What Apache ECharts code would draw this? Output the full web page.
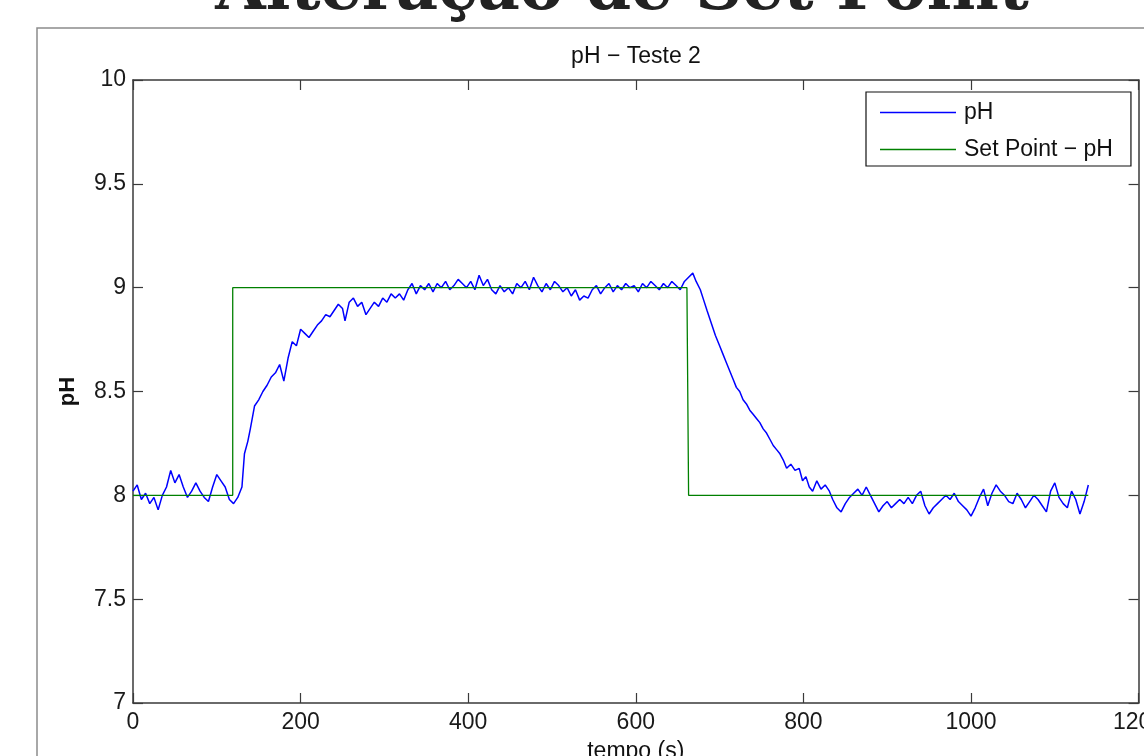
<!DOCTYPE html>
<html>
<head>
<meta charset="utf-8">
<title>pH - Teste 2</title>
<script src="https://cdn.jsdelivr.net/npm/echarts@6/dist/echarts.min.js"></script>
<style>
  html, body { margin: 0; padding: 0; background: #fff; }
  #main { width: 1144px; height: 756px; }
</style>
</head>
<body>
<div id="main"></div>
<script>
// dados (tempo em s, pH)
const phMedido = [
  [0, 8.02], [5, 8.05], [10, 7.98], [15, 8.01], [20, 7.96], [25, 7.99], [30, 7.93], [35, 8.00],
  [40, 8.04], [45, 8.12], [50, 8.06], [55, 8.10], [60, 8.04], [65, 7.99], [70, 8.02], [75, 8.06],
  [80, 8.02], [85, 7.99], [90, 7.97], [95, 8.04], [100, 8.10], [105, 8.07], [110, 8.04], [115, 7.98],
  [120, 7.96], [125, 7.99], [130, 8.04], [133, 8.20], [137, 8.26], [140, 8.32], [145, 8.43], [150, 8.46],
  [155, 8.50], [160, 8.53], [165, 8.57], [170, 8.59], [175, 8.63], [180, 8.55], [185, 8.66], [190, 8.74],
  [195, 8.72], [200, 8.80], [205, 8.78], [210, 8.76], [215, 8.79], [220, 8.82], [225, 8.84], [230, 8.87],
  [235, 8.86], [240, 8.89], [245, 8.92], [250, 8.90], [253, 8.84], [258, 8.93], [263, 8.95], [268, 8.91],
  [273, 8.93], [278, 8.87], [283, 8.90], [288, 8.93], [293, 8.91], [298, 8.95], [303, 8.93], [308, 8.97],
  [313, 8.95], [318, 8.97], [323, 8.94], [328, 8.99], [333, 9.02], [338, 8.97], [343, 9.01], [348, 8.99],
  [353, 9.02], [358, 8.98], [363, 9.02], [368, 9.00], [373, 9.03], [378, 8.99], [383, 9.01], [388, 9.04],
  [393, 9.02], [398, 9.00], [403, 9.03], [408, 8.99], [413, 9.06], [418, 9.01], [423, 9.04], [428, 8.99],
  [433, 8.97], [438, 9.01], [443, 8.98], [448, 9.00], [453, 8.97], [458, 9.02], [463, 9.00], [468, 9.03],
  [473, 8.99], [478, 9.05], [483, 9.01], [488, 8.98], [493, 9.02], [498, 8.99], [503, 9.03], [508, 9.01],
  [513, 8.98], [518, 9.00], [523, 8.96], [528, 8.99], [533, 8.94], [538, 8.96], [543, 8.95], [548, 8.99],
  [553, 9.01], [558, 8.97], [563, 9.00], [568, 9.02], [573, 8.98], [578, 9.01], [583, 8.99], [588, 9.02],
  [593, 9.00], [598, 9.01], [603, 8.98], [608, 9.02], [613, 9.00], [618, 9.03], [623, 9.01], [628, 8.99],
  [633, 9.02], [638, 9.00], [643, 9.03], [648, 9.01], [653, 8.99], [658, 9.03], [663, 9.05], [668, 9.07],
  [672, 9.03], [677, 8.99], [681, 8.94], [685, 8.89], [690, 8.83], [695, 8.77], [700, 8.72], [704, 8.68],
  [708, 8.64], [712, 8.60], [716, 8.56], [720, 8.52], [724, 8.50], [728, 8.46], [732, 8.44], [736, 8.41],
  [740, 8.39], [744, 8.37], [748, 8.35], [752, 8.32], [756, 8.30], [760, 8.27], [764, 8.24], [768, 8.22],
  [772, 8.20], [776, 8.17], [780, 8.13], [785, 8.15], [790, 8.12], [795, 8.13], [799, 8.07], [803, 8.09],
  [807, 8.04], [811, 8.02], [816, 8.07], [821, 8.03], [826, 8.05], [831, 8.02], [835, 7.98], [840, 7.94],
  [845, 7.92], [850, 7.96], [855, 7.99], [860, 8.01], [865, 8.03], [870, 8.00], [875, 8.04], [880, 8.00],
  [885, 7.96], [890, 7.92], [895, 7.95], [900, 7.97], [905, 7.94], [910, 7.96], [915, 7.98], [920, 7.96],
  [925, 7.99], [930, 7.96], [935, 8.00], [940, 8.02], [945, 7.95], [950, 7.91], [955, 7.94], [960, 7.96],
  [965, 7.98], [970, 8.00], [975, 7.98], [980, 8.01], [985, 7.97], [990, 7.95], [995, 7.93], [1000, 7.90],
  [1005, 7.94], [1010, 7.99], [1015, 8.03], [1020, 7.95], [1025, 8.01], [1030, 8.05], [1035, 8.02], [1040, 8.00],
  [1045, 7.97], [1050, 7.96], [1055, 8.01], [1060, 7.98], [1065, 7.94], [1070, 7.97], [1075, 8.00], [1080, 7.98],
  [1085, 7.95], [1090, 7.92], [1095, 8.02], [1100, 8.06], [1105, 7.99], [1110, 7.96], [1115, 7.94], [1120, 8.02],
  [1125, 7.98], [1130, 7.91], [1135, 7.97], [1140, 8.05]
];
const setPoint = [[0, 8], [119, 8], [119, 9], [661, 9], [663, 8], [1140, 8]];
const xTicks = [0, 200, 400, 600, 800, 1000, 1200];
const yTicks = [7, 7.5, 8, 8.5, 9, 9.5, 10];

const chart = echarts.init(document.getElementById('main'), null, { renderer: 'canvas' });

const fonte = 'Liberation Sans';
const corEixo = '#3a3a3a';

const option = {
  animation: false,
  backgroundColor: '#fff',
  graphic: [
    {
      type: 'rect', silent: true, z: -1,
      shape: { x: 37, y: 28, width: 1200, height: 800 },
      style: { fill: '#fff', stroke: '#8c8c8c', lineWidth: 1.5 }
    },
    {
      type: 'text', silent: true,
      style: {
        text: 'Alteração de Set Point', x: 622, y: 25,
        textAlign: 'center', textVerticalAlign: 'bottom',
        font: 'bold 65px "DejaVu Serif"', fill: '#222'
      }
    },
    {
      type: 'text', silent: true,
      style: {
        text: 'pH − Teste 2', x: 636, y: 57,
        textAlign: 'center', textVerticalAlign: 'middle',
        font: '23px "' + fonte + '"', fill: '#111'
      }
    }
  ],
  grid: { left: 133, right: 5.4, top: 80, bottom: 53, containLabel: false, outerBoundsMode: 'none' },
  legend: {
    orient: 'vertical',
    left: 866, top: 92,
    padding: [9, 18, 5, 14],
    itemGap: 14, itemWidth: 76, itemHeight: 1.6,
    icon: 'rect',
    backgroundColor: '#fff', borderColor: '#111', borderWidth: 1.2,
    textStyle: { fontFamily: fonte, fontSize: 23, color: '#111', padding: [0, 0, 0, 3] },
    data: ['pH', 'Set Point − pH']
  },
  xAxis: [
    {
      type: 'value', min: xTicks[0], max: xTicks[xTicks.length - 1], interval: 200,
      name: 'tempo (s)', nameLocation: 'middle', nameGap: 37,
      nameTextStyle: { fontFamily: fonte, fontSize: 23, color: '#111' },
      axisLine: { onZero: false, lineStyle: { color: corEixo, width: 1.5 } },
      axisTick: { inside: true, length: 10, lineStyle: { color: corEixo, width: 1.2 } },
      axisLabel: { margin: 8, fontFamily: fonte, fontSize: 23, color: '#1a1a1a', formatter: v => String(v), hideOverlap: false },
      splitLine: { show: false }
    },
    {
      type: 'value', position: 'top', min: xTicks[0], max: xTicks[xTicks.length - 1], interval: 200,
      axisLine: { onZero: false, lineStyle: { color: corEixo, width: 1.5 } },
      axisTick: { inside: true, length: 10, lineStyle: { color: corEixo, width: 1.2 } },
      axisLabel: { show: false },
      splitLine: { show: false }
    }
  ],
  yAxis: [
    {
      type: 'value', min: yTicks[0], max: yTicks[yTicks.length - 1], interval: 0.5,
      name: 'pH', nameLocation: 'middle', nameGap: 54,
      nameTextStyle: { fontFamily: fonte, fontSize: 22, fontWeight: 'bold', color: '#111' },
      axisLine: { onZero: false, lineStyle: { color: corEixo, width: 1.5 } },
      axisTick: { inside: true, length: 10, lineStyle: { color: corEixo, width: 1.2 } },
      axisLabel: { margin: 7, fontFamily: fonte, fontSize: 23, color: '#1a1a1a', formatter: v => String(v) },
      splitLine: { show: false }
    },
    {
      type: 'value', position: 'right', min: yTicks[0], max: yTicks[yTicks.length - 1], interval: 0.5,
      axisLine: { onZero: false, lineStyle: { color: corEixo, width: 1.5 } },
      axisTick: { inside: true, length: 10, lineStyle: { color: corEixo, width: 1.2 } },
      axisLabel: { show: false },
      splitLine: { show: false }
    }
  ],
  series: [
    {
      name: 'pH', type: 'line', data: phMedido,
      symbol: 'none', showSymbol: false,
      lineStyle: { color: '#0000ff', width: 1.5 },
      itemStyle: { color: '#0000ff' }
    },
    {
      name: 'Set Point − pH', type: 'line', data: setPoint,
      symbol: 'none', showSymbol: false,
      lineStyle: { color: '#008000', width: 1.3 },
      itemStyle: { color: '#008000' }
    }
  ]
};

chart.setOption(option);
</script>
</body>
</html>
